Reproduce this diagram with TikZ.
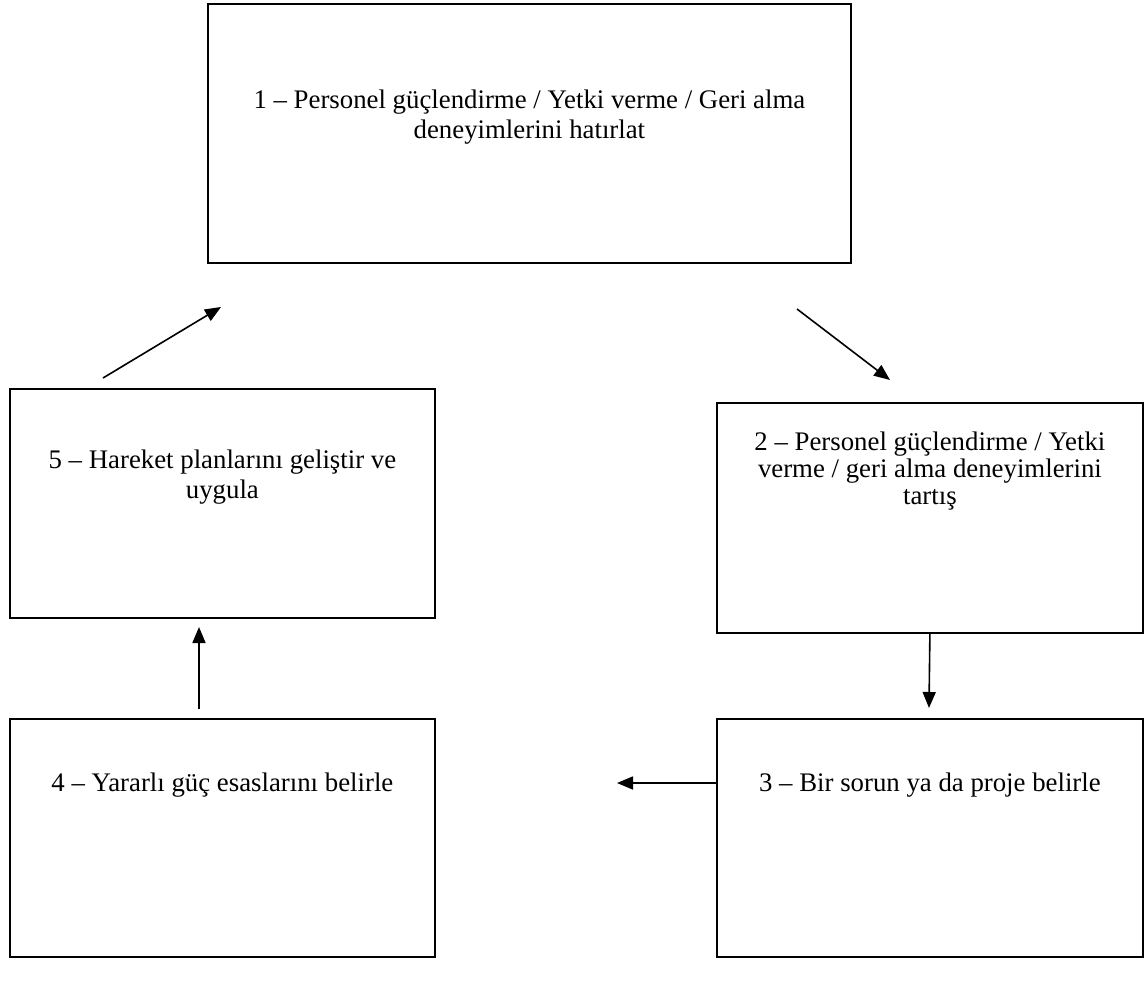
\documentclass[tikz,border=0pt]{standalone}
\usepackage{fontspec}
\setmainfont{Liberation Serif}
\usetikzlibrary{arrows.meta, positioning}

\begin{document}
\begin{tikzpicture}[x=1pt, y=-1pt,
    stepbox/.style={rectangle, draw=black, line width=1.8pt, inner sep=0pt, anchor=north west},
    steptext/.style={align=center, inner sep=0pt, font=\fontsize{26.8}{30}\selectfont},
    flow/.style={-{Triangle[length=16pt, width=13pt]}, line width=1.6pt}
]
    \useasboundingbox (0,0) rectangle (1144,983);

    % the five steps of the cycle
    \node[stepbox, minimum width=643pt, minimum height=259pt] (step1) at (207,3) {};
    \node[stepbox, minimum width=426pt, minimum height=230pt] (step2) at (716,402) {};
    \node[stepbox, minimum width=426pt, minimum height=238pt] (step3) at (716,718) {};
    \node[stepbox, minimum width=425pt, minimum height=238pt] (step4) at (9,718) {};
    \node[stepbox, minimum width=425pt, minimum height=229pt] (step5) at (9,388) {};

    \node[steptext, below=87pt of step1.north] (text1) {1 -- Personel güçlendirme / Yetki verme / Geri alma\\ deneyimlerini hatırlat};
    \node[steptext, below=30pt of step2.north, font=\fontsize{26.8}{27}\selectfont] (text2) {2 -- Personel güçlendirme / Yetki\\ verme / geri alma deneyimlerini\\ tartış};
    \node[steptext, below=55pt of step3.north] (text3) {3 -- Bir sorun ya da proje belirle};
    \node[steptext, below=55pt of step4.north] (text4) {4 -- Yararlı güç esaslarını belirle};
    \node[steptext, below=62pt of step5.north] (text5) {5 -- Hareket planlarını geliştir ve\\ uygula};

    % free arrow ends
    \coordinate (from5) at (103,378);
    \coordinate (to1) at (221,307);
    \coordinate (from1) at (797,309);
    \coordinate (to2) at (890,380);
    \coordinate (to3) at (929,708);
    \coordinate (to4) at (617,783);
    \coordinate (from4) at (199,709);
    \coordinate (to5) at (199,627);

    \draw[flow] (from5) -- (to1);
    \draw[flow] (from1) -- (to2);
    \draw[flow] (step2.south) -- (to3);
    \draw[flow] (step3.west |- to4) -- (to4);
    \draw[flow] (from4) -- (to5);
\end{tikzpicture}
\end{document}
